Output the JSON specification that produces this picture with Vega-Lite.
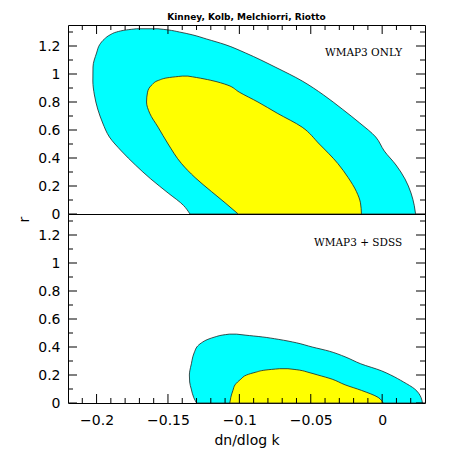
{
  "$schema": "https://vega.github.io/schema/vega-lite/v6.json",
  "padding": {"left": 16, "top": 12, "right": 5, "bottom": 0},
  "datasets": {
    "topCyan": [
      {"r": 0, "lo": -0.1346, "hi": 0.0234},
      {"r": 0.06, "lo": -0.139, "hi": 0.0225},
      {"r": 0.15, "lo": -0.1499, "hi": 0.0202},
      {"r": 0.25, "lo": -0.162, "hi": 0.016},
      {"r": 0.35, "lo": -0.1728, "hi": 0.0097},
      {"r": 0.45, "lo": -0.1826, "hi": 0.0015},
      {"r": 0.55, "lo": -0.191, "hi": -0.0045},
      {"r": 0.65, "lo": -0.1957, "hi": -0.0157},
      {"r": 0.75, "lo": -0.1992, "hi": -0.028},
      {"r": 0.85, "lo": -0.2015, "hi": -0.041},
      {"r": 0.95, "lo": -0.2026, "hi": -0.056},
      {"r": 1.05, "lo": -0.2025, "hi": -0.075},
      {"r": 1.15, "lo": -0.2, "hi": -0.0956},
      {"r": 1.21, "lo": -0.1978, "hi": -0.11},
      {"r": 1.25, "lo": -0.1945, "hi": -0.123},
      {"r": 1.28, "lo": -0.1905, "hi": -0.133},
      {"r": 1.3, "lo": -0.186, "hi": -0.142},
      {"r": 1.315, "lo": -0.179, "hi": -0.15},
      {"r": 1.323, "lo": -0.172, "hi": -0.157}
    ],
    "topYellow": [
      {"r": 0, "lo": -0.1008, "hi": -0.0145},
      {"r": 0.08, "lo": -0.11, "hi": -0.0152},
      {"r": 0.16, "lo": -0.1195, "hi": -0.018},
      {"r": 0.26, "lo": -0.131, "hi": -0.0238},
      {"r": 0.36, "lo": -0.1405, "hi": -0.031},
      {"r": 0.5, "lo": -0.1499, "hi": -0.044},
      {"r": 0.62, "lo": -0.1569, "hi": -0.056},
      {"r": 0.72, "lo": -0.1628, "hi": -0.0735},
      {"r": 0.8, "lo": -0.165, "hi": -0.087},
      {"r": 0.87, "lo": -0.1643, "hi": -0.1},
      {"r": 0.92, "lo": -0.1615, "hi": -0.108},
      {"r": 0.955, "lo": -0.1565, "hi": -0.12},
      {"r": 0.975, "lo": -0.149, "hi": -0.13},
      {"r": 0.985, "lo": -0.14, "hi": -0.136}
    ],
    "botCyan": [
      {"r": 0, "lo": -0.13, "hi": 0.0282},
      {"r": 0.04, "lo": -0.132, "hi": 0.0272},
      {"r": 0.1, "lo": -0.1337, "hi": 0.0228},
      {"r": 0.15, "lo": -0.1348, "hi": 0.015},
      {"r": 0.2, "lo": -0.135, "hi": 0.006},
      {"r": 0.23, "lo": -0.1347, "hi": -0.0005},
      {"r": 0.28, "lo": -0.1336, "hi": -0.015},
      {"r": 0.33, "lo": -0.1326, "hi": -0.026},
      {"r": 0.37, "lo": -0.1312, "hi": -0.037},
      {"r": 0.4, "lo": -0.1298, "hi": -0.049},
      {"r": 0.43, "lo": -0.1265, "hi": -0.06},
      {"r": 0.455, "lo": -0.122, "hi": -0.0728},
      {"r": 0.472, "lo": -0.117, "hi": -0.084},
      {"r": 0.485, "lo": -0.112, "hi": -0.096},
      {"r": 0.492, "lo": -0.107, "hi": -0.102}
    ],
    "botYellow": [
      {"r": 0, "lo": -0.1067, "hi": 0.0007},
      {"r": 0.04, "lo": -0.106, "hi": -0.0028},
      {"r": 0.09, "lo": -0.1045, "hi": -0.0145},
      {"r": 0.13, "lo": -0.103, "hi": -0.026},
      {"r": 0.17, "lo": -0.099, "hi": -0.035},
      {"r": 0.2, "lo": -0.095, "hi": -0.045},
      {"r": 0.22, "lo": -0.0885, "hi": -0.052},
      {"r": 0.235, "lo": -0.082, "hi": -0.058},
      {"r": 0.245, "lo": -0.072, "hi": -0.066}
    ],
    "ticksX": [
      {"v": -0.21, "kind": "minor"}, {"v": -0.2, "kind": "major"}, {"v": -0.19, "kind": "minor"}, {"v": -0.18, "kind": "minor"},
      {"v": -0.17, "kind": "minor"}, {"v": -0.16, "kind": "minor"}, {"v": -0.15, "kind": "major"}, {"v": -0.14, "kind": "minor"},
      {"v": -0.13, "kind": "minor"}, {"v": -0.12, "kind": "minor"}, {"v": -0.11, "kind": "minor"}, {"v": -0.1, "kind": "major"},
      {"v": -0.09, "kind": "minor"}, {"v": -0.08, "kind": "minor"}, {"v": -0.07, "kind": "minor"}, {"v": -0.06, "kind": "minor"},
      {"v": -0.05, "kind": "major"}, {"v": -0.04, "kind": "minor"}, {"v": -0.03, "kind": "minor"}, {"v": -0.02, "kind": "minor"},
      {"v": -0.01, "kind": "minor"}, {"v": 0, "kind": "major"}, {"v": 0.01, "kind": "minor"}, {"v": 0.02, "kind": "minor"}
    ],
    "ticksY": [
      {"v": 0, "kind": "major"}, {"v": 0.1, "kind": "minor"}, {"v": 0.2, "kind": "major"}, {"v": 0.3, "kind": "minor"},
      {"v": 0.4, "kind": "major"}, {"v": 0.5, "kind": "minor"}, {"v": 0.6, "kind": "major"}, {"v": 0.7, "kind": "minor"},
      {"v": 0.8, "kind": "major"}, {"v": 0.9, "kind": "minor"}, {"v": 1, "kind": "major"}, {"v": 1.1, "kind": "minor"},
      {"v": 1.2, "kind": "major"}, {"v": 1.3, "kind": "minor"}
    ],
    "topLabel": [{"x": 0.014, "r": 1.147, "text": "WMAP3 ONLY"}],
    "botLabel": [{"x": 0.014, "r": 1.145, "text": "WMAP3 + SDSS"}]
  },
  "spacing": 0,
  "bounds": "flush",
  "vconcat": [
    {
      "width": 357,
      "height": 189,
      "title": {"text": "Kinney, Kolb, Melchiorri, Riotto", "font": "DejaVu Sans", "fontSize": 9, "fontWeight": "bold", "color": "black", "anchor": "middle", "frame": "group", "offset": 3},
      "resolve": {"axis": {"x": "independent", "y": "independent"}},
      "layer": [
        {
          "data": {"name": "topCyan"},
          "mark": {"type": "area", "orient": "horizontal", "interpolate": "monotone", "fill": "#00FFFF", "fillOpacity": 1, "stroke": "#222222", "strokeWidth": 0.8},
          "encoding": {
            "y": {"field": "r", "type": "quantitative", "scale": {"domain": [0, 1.35], "nice": false, "zero": false},
              "axis": {"orient": "left", "values": [0, 0.2, 0.4, 0.6, 0.8, 1, 1.2], "format": "~g", "ticks": false, "labelPadding": 8, "title": null}},
            "x": {"field": "lo", "type": "quantitative", "scale": {"domain": [-0.22, 0.03], "nice": false, "zero": false}, "axis": null},
            "x2": {"field": "hi"}
          }
        },
        {
          "data": {"name": "topYellow"},
          "mark": {"type": "area", "orient": "horizontal", "interpolate": "monotone", "fill": "#FFFF00", "fillOpacity": 1, "stroke": "#222222", "strokeWidth": 0.8},
          "encoding": {
            "y": {"field": "r", "type": "quantitative", "axis": null},
            "x": {"field": "lo", "type": "quantitative", "axis": null},
            "x2": {"field": "hi"}
          }
        },
        {
          "data": {"name": "ticksX"},
          "mark": {"type": "tick", "orient": "vertical", "clip": true, "color": "black", "thickness": 1, "opacity": 1},
          "encoding": {
            "x": {"field": "v", "type": "quantitative", "axis": null},
            "y": {"datum": 1.35, "type": "quantitative", "axis": null},
            "size": {"field": "kind", "type": "ordinal", "scale": {"domain": ["major", "minor"], "range": [18, 10]}, "legend": null}
          }
        },
        {
          "data": {"name": "ticksY"},
          "mark": {"type": "tick", "orient": "horizontal", "clip": true, "color": "black", "thickness": 1, "opacity": 1},
          "encoding": {
            "y": {"field": "v", "type": "quantitative", "axis": null},
            "x": {"datum": -0.22, "type": "quantitative", "axis": null},
            "size": {"field": "kind", "type": "ordinal", "scale": {"domain": ["major", "minor"], "range": [18, 10]}, "legend": null}
          }
        },
        {
          "data": {"name": "ticksY"},
          "mark": {"type": "tick", "orient": "horizontal", "clip": true, "color": "black", "thickness": 1, "opacity": 1},
          "encoding": {
            "y": {"field": "v", "type": "quantitative", "axis": null},
            "x": {"datum": 0.03, "type": "quantitative", "axis": null},
            "size": {"field": "kind", "type": "ordinal", "scale": {"domain": ["major", "minor"], "range": [18, 10]}, "legend": null}
          }
        },
        {
          "data": {"name": "topLabel"},
          "mark": {"type": "text", "align": "right", "baseline": "middle", "font": "DejaVu Serif", "fontSize": 10.5, "color": "black"},
          "encoding": {
            "y": {"field": "r", "type": "quantitative", "axis": null},
            "x": {"field": "x", "type": "quantitative", "axis": null},
            "text": {"field": "text"}
          }
        }
      ]
    },
    {
      "width": 357,
      "height": 189,
      "resolve": {"axis": {"x": "independent", "y": "independent"}},
      "layer": [
        {
          "data": {"name": "botCyan"},
          "mark": {"type": "area", "orient": "horizontal", "interpolate": "monotone", "fill": "#00FFFF", "fillOpacity": 1, "stroke": "#222222", "strokeWidth": 0.8},
          "encoding": {
            "y": {"field": "r", "type": "quantitative", "scale": {"domain": [0, 1.35], "nice": false, "zero": false},
              "axis": {"orient": "left", "values": [0, 0.2, 0.4, 0.6, 0.8, 1, 1.2], "format": "~g", "ticks": false, "labelPadding": 8,
                "title": "r", "titleX": -44, "titleY": 5, "titleAngle": 270, "titleAlign": "center", "titleBaseline": "middle"}},
            "x": {"field": "lo", "type": "quantitative", "scale": {"domain": [-0.22, 0.03], "nice": false, "zero": false},
              "axis": {"orient": "bottom", "values": [-0.2, -0.15, -0.1, -0.05, 0], "format": "~g", "ticks": false, "labelPadding": 10,
                "title": "dn/dlog k", "titlePadding": 6}},
            "x2": {"field": "hi"}
          }
        },
        {
          "data": {"name": "botYellow"},
          "mark": {"type": "area", "orient": "horizontal", "interpolate": "monotone", "fill": "#FFFF00", "fillOpacity": 1, "stroke": "#222222", "strokeWidth": 0.8},
          "encoding": {
            "y": {"field": "r", "type": "quantitative", "axis": null},
            "x": {"field": "lo", "type": "quantitative", "axis": null},
            "x2": {"field": "hi"}
          }
        },
        {
          "data": {"name": "ticksX"},
          "mark": {"type": "tick", "orient": "vertical", "clip": true, "color": "black", "thickness": 1, "opacity": 1},
          "encoding": {
            "x": {"field": "v", "type": "quantitative", "axis": null},
            "y": {"datum": 0, "type": "quantitative", "axis": null},
            "size": {"field": "kind", "type": "ordinal", "scale": {"domain": ["major", "minor"], "range": [18, 10]}, "legend": null}
          }
        },
        {
          "data": {"name": "ticksY"},
          "mark": {"type": "tick", "orient": "horizontal", "clip": true, "color": "black", "thickness": 1, "opacity": 1},
          "encoding": {
            "y": {"field": "v", "type": "quantitative", "axis": null},
            "x": {"datum": -0.22, "type": "quantitative", "axis": null},
            "size": {"field": "kind", "type": "ordinal", "scale": {"domain": ["major", "minor"], "range": [18, 10]}, "legend": null}
          }
        },
        {
          "data": {"name": "ticksY"},
          "mark": {"type": "tick", "orient": "horizontal", "clip": true, "color": "black", "thickness": 1, "opacity": 1},
          "encoding": {
            "y": {"field": "v", "type": "quantitative", "axis": null},
            "x": {"datum": 0.03, "type": "quantitative", "axis": null},
            "size": {"field": "kind", "type": "ordinal", "scale": {"domain": ["major", "minor"], "range": [18, 10]}, "legend": null}
          }
        },
        {
          "data": {"name": "botLabel"},
          "mark": {"type": "text", "align": "right", "baseline": "middle", "font": "DejaVu Serif", "fontSize": 10.5, "color": "black"},
          "encoding": {
            "y": {"field": "r", "type": "quantitative", "axis": null},
            "x": {"field": "x", "type": "quantitative", "axis": null},
            "text": {"field": "text"}
          }
        }
      ]
    }
  ],
  "config": {
    "view": {"stroke": "black", "strokeWidth": 1},
    "axis": {"domain": false, "grid": false, "labelFont": "DejaVu Sans", "labelFontSize": 14, "labelColor": "black", "titleFont": "DejaVu Sans", "titleFontSize": 14, "titleFontWeight": "normal", "titleColor": "black", "labelOverlap": false, "labelFlush": false},
    "font": "DejaVu Sans"
  }
}
